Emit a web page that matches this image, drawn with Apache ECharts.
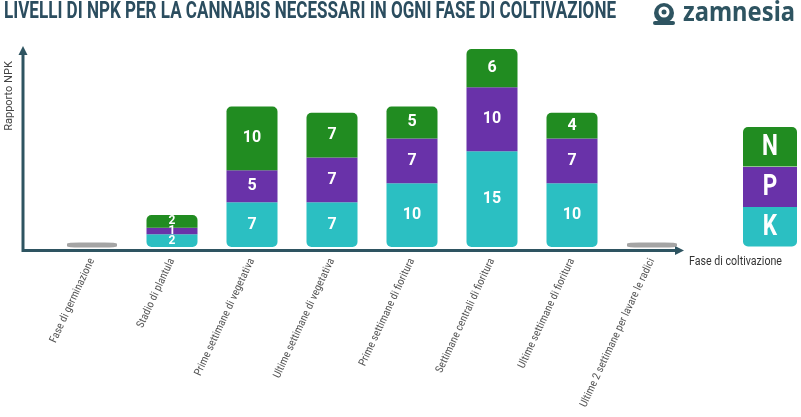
<!DOCTYPE html>
<html><head><meta charset="utf-8">
<script src="https://cdn.jsdelivr.net/npm/echarts@6/dist/echarts.min.js"></script>
<style>html,body{margin:0;padding:0;background:#fff}#c{width:801px;height:417px}</style>
</head><body><div id="c"></div>
<script>
const title = 'LIVELLI DI NPK PER LA CANNABIS NECESSARI IN OGNI FASE DI COLTIVAZIONE';
const categories = ['Fase di germinazione','Stadio di plantula','Prime settimane di vegetativa','Ultime settimane di vegetativa','Prime settimane di fioritura','Settimane centrali di fioritura','Ultime settimane di fioritura','Ultime 2 settimane per lavare le radici'];
const K = [null, 2, 7, 7, 10, 15, 10, null];
const P = [null, 1, 5, 7, 7, 10, 7, null];
const N = [null, 2, 10, 7, 5, 6, 4, null];
const flush = [0, null, null, null, null, null, null, 0];
const legendLetters = ['N', 'P', 'K'];

const cK = '#2bbfc2', cP = '#6932a9', cN = '#218c21', axisC = '#2e5461';
const ctx = document.createElement('canvas').getContext('2d');
function fitScale(text, font, target) { ctx.font = font; return target / ctx.measureText(text).width; }
function hasFont(name) {
  const s = 'Ultime 2 settimane per lavare le radici';
  ctx.font = '12px monospace'; const a = ctx.measureText(s).width;
  ctx.font = '12px "' + name + '", monospace'; const b = ctx.measureText(s).width;
  return Math.abs(a - b) > 0.5;
}
const narrowFams = ['Roboto Condensed', 'Liberation Sans Narrow', 'DejaVu Sans Condensed', 'Open Sans Condensed'];
const narrow = narrowFams.find(hasFont);
const labelFam = narrow ? '"' + narrow + '"' : 'Roboto';
// fit axis label size so the longest label is about 163px long
ctx.font = '10px ' + labelFam;
const labelSize = Math.min(12, 10 * 163 / ctx.measureText(categories[7]).width);

const titleFont = 'bold 23px Roboto, sans-serif';
const titleScale = fitScale(title, titleFont, 612);
const logoFont = 'bold 26px "Noto Sans", sans-serif';
const logoScale = fitScale('zamnesia', logoFont, 112);
const xnameFont = '12px Roboto, sans-serif';
const xnameScale = fitScale('Fase di coltivazione', xnameFont, 93);

function segData(arr) {
  return arr.map(v => v == null ? null : {value: v, label: {fontSize: v <= 2 ? 12 : 16}});
}
const lbl = {show: true, position: 'inside', color: '#fff', fontFamily: 'Roboto, sans-serif', fontWeight: 'bold', fontSize: 16};

const chart = echarts.init(document.getElementById('c'), null, {renderer: 'canvas'});
const legColors = [cN, cP, cK];
const legGraphics = legendLetters.map((t, i) => ({
  type: 'rect', left: 743, top: 127 + i * 40,
  shape: {width: 54, height: i === 1 ? 40 : 39.5, r: i === 0 ? [5,5,0,0] : (i === 2 ? [0,0,5,5] : 0)},
  style: {fill: legColors[i]}
}));
const legText = legendLetters.map((t, i) => ({
  type: 'text', x: 770, y: 147 + i * 40, scaleX: 0.75,
  style: {text: t, fill: '#fff', font: 'bold 30px Roboto, sans-serif', align: 'center', verticalAlign: 'middle'}
}));

chart.setOption({
  animation: false,
  grid: {left: 52, width: 640, top: 49, bottom: 170, containLabel: false, outerBoundsMode: 'none'},
  xAxis: {
    type: 'category', data: categories,
    axisLine: {show: false}, axisTick: {show: false},
    axisLabel: {rotate: 65, interval: 0, color: '#555', fontSize: labelSize, fontFamily: labelFam, margin: 12}
  },
  yAxis: {type: 'value', min: 0, max: 31, show: false},
  series: [
    {name: 'K', type: 'bar', stack: 'npk', data: segData(K), barWidth: 51, itemStyle: {color: cK, borderRadius: [0,0,5,5]}, label: lbl},
    {name: 'P', type: 'bar', stack: 'npk', data: segData(P), itemStyle: {color: cP}, label: lbl},
    {name: 'N', type: 'bar', stack: 'npk', data: segData(N), itemStyle: {color: cN, borderRadius: [5,5,0,0]}, label: lbl},
    {name: 'flush', type: 'scatter', data: flush, symbol: 'roundRect', symbolSize: [50, 5], symbolOffset: [0, -2], itemStyle: {color: '#8e8e8e'}, z: 5}
  ],
  graphic: [
    {type: 'text', x: 4, y: 12, scaleX: titleScale, style: {text: title, fill: '#2b4d5f', font: titleFont, verticalAlign: 'middle'}},
    {type: 'text', x: 683, y: 14, scaleX: logoScale, style: {text: 'zamnesia', fill: '#2e5461', font: logoFont, verticalAlign: 'middle'}},
    {type: 'circle', shape: {cx: 664, cy: 13, r: 10}, style: {fill: '#2e5461'}},
    {type: 'circle', shape: {cx: 664, cy: 12, r: 5.5}, style: {fill: '#fff'}},
    {type: 'circle', shape: {cx: 664, cy: 12, r: 2.5}, style: {fill: '#2e5461'}},
    {type: 'rect', shape: {x: 653, y: 21, width: 22, height: 4, r: 2}, style: {fill: '#2e5461'}},
    // axes
    {type: 'line', shape: {x1: 23, y1: 252, x2: 23, y2: 54}, style: {stroke: axisC, lineWidth: 3}},
    {type: 'polygon', shape: {points: [[23, 46], [18.5, 55], [27.5, 55]]}, style: {fill: axisC}},
    {type: 'line', shape: {x1: 22, y1: 250.5, x2: 676, y2: 250.5}, style: {stroke: axisC, lineWidth: 3}},
    {type: 'polygon', shape: {points: [[684, 250.5], [675, 246], [675, 255]]}, style: {fill: axisC}},
    {type: 'text', x: 9, y: 96, rotation: Math.PI / 2, style: {text: 'Rapporto NPK', fill: '#444', font: '11px Roboto, sans-serif', align: 'center', verticalAlign: 'middle'}},
    {type: 'text', x: 689, y: 262, scaleX: xnameScale, style: {text: 'Fase di coltivazione', fill: '#333', font: xnameFont, verticalAlign: 'middle'}},
    ...legGraphics, ...legText
  ]
});
</script></body></html>
